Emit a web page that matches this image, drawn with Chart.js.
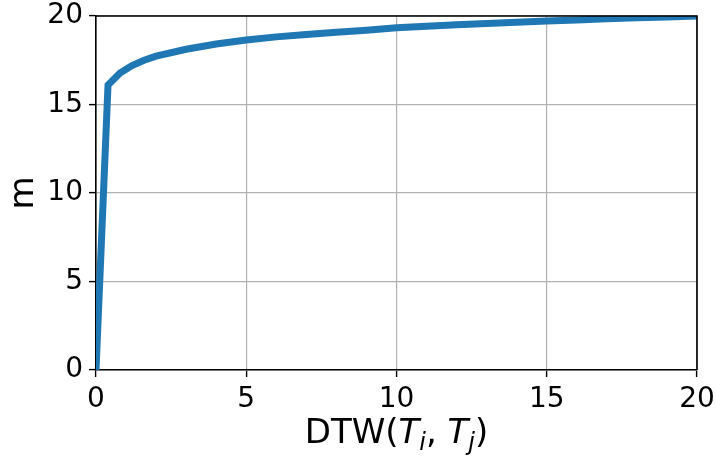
<!DOCTYPE html>
<html>
<head>
<meta charset="utf-8">
<script src="https://cdn.jsdelivr.net/npm/chart.js@4"></script>
<style>
  html, body { margin: 0; padding: 0; background: #ffffff; }
  #wrap { width: 716px; height: 457px; }
</style>
</head>
<body>
<div id="wrap"><canvas id="chart" width="716" height="457"></canvas></div>
<script>
// DTW distance between trajectories vs. m
const dtwValues = [0, 0.4, 0.8, 1.2, 1.6, 2, 3, 4, 5, 6, 7, 8, 9, 10, 11, 12, 13, 14, 15, 16, 17, 18, 19, 20];
const mValues   = [0, 16.1, 16.78, 17.2, 17.5, 17.73, 18.12, 18.42, 18.64, 18.82, 18.96, 19.08, 19.2, 19.33, 19.42, 19.5, 19.58, 19.65, 19.72, 19.78, 19.84, 19.9, 19.95, 20.0];
const xTicks = [0, 5, 10, 15, 20];
const yTicks = [0, 5, 10, 15, 20];

const FONT = '"DejaVu Sans", sans-serif';

// Top and right frame lines plus the mathtext-style x title
const framePlugin = {
  id: 'frame',
  afterDraw(chart) {
    const { ctx, chartArea: a } = chart;
    ctx.save();
    ctx.strokeStyle = '#000';
    ctx.lineWidth = 1.6;
    ctx.beginPath();
    ctx.moveTo(a.left, a.top);
    ctx.lineTo(a.right, a.top);
    ctx.lineTo(a.right, a.bottom);
    ctx.stroke();

    // x title: DTW(T_i, T_j)
    const size = 34;
    const sub = 24;
    const parts = [
      { t: 'DTW(', f: `${size}px ${FONT}`, dy: 0 },
      { t: 'T', f: `italic ${size}px ${FONT}`, dy: 0 },
      { t: 'i', f: `italic ${sub}px ${FONT}`, dy: 7 },
      { t: ', ', f: `${size}px ${FONT}`, dy: 0 },
      { t: 'T', f: `italic ${size}px ${FONT}`, dy: 0 },
      { t: 'j', f: `italic ${sub}px ${FONT}`, dy: 7 },
      { t: ')', f: `${size}px ${FONT}`, dy: 0 }
    ];
    let total = 0;
    parts.forEach(p => { ctx.font = p.f; p.w = ctx.measureText(p.t).width; total += p.w; });
    let x = (a.left + a.right) / 2 - total / 2;
    const base = 443;
    ctx.fillStyle = '#000';
    ctx.textBaseline = 'alphabetic';
    ctx.textAlign = 'left';
    parts.forEach(p => { ctx.font = p.f; ctx.fillText(p.t, x, base + p.dy); x += p.w; });
    ctx.restore();
  }
};

new Chart(document.getElementById('chart'), {
  type: 'line',
  data: {
    datasets: [{
      data: dtwValues.map((d, i) => ({ x: d, y: mValues[i] })),
      borderColor: '#1f77b4',
      borderWidth: 7,
      pointRadius: 0,
      tension: 0,
      fill: false
    }]
  },
  options: {
    responsive: false,
    animation: false,
    layout: { padding: { left: 0, top: 16, right: 19, bottom: 0 } },
    plugins: { legend: { display: false }, tooltip: { enabled: false } },
    scales: {
      x: {
        type: 'linear',
        min: 0, max: 20,
        afterBuildTicks: s => { s.ticks = xTicks.map(v => ({ value: v })); },
        afterFit: s => { s.height = 87; s.paddingLeft = 0; s.paddingRight = 0; },
        ticks: { font: { family: FONT, size: 28 }, color: '#000', padding: 6, maxRotation: 0 },
        grid: { color: '#b0b0b0', lineWidth: 1.2, tickLength: 7, tickColor: '#000', tickWidth: 1.4 },
        border: { color: '#000', width: 1.6 }
      },
      y: {
        min: 0, max: 20,
        afterBuildTicks: s => { s.ticks = yTicks.map(v => ({ value: v })); },
        afterFit: s => { s.width = 96; s.paddingTop = 0; s.paddingBottom = 0; },
        ticks: { font: { family: FONT, size: 28 }, color: '#000', padding: 6 },
        grid: { color: '#b0b0b0', lineWidth: 1.2, tickLength: 7, tickColor: '#000', tickWidth: 1.4 },
        border: { color: '#000', width: 1.6 },
        title: { display: true, text: 'm', font: { family: FONT, size: 34 }, color: '#000', padding: { top: 4, bottom: 0 } }
      }
    }
  },
  plugins: [framePlugin]
});
</script>
</body>
</html>
